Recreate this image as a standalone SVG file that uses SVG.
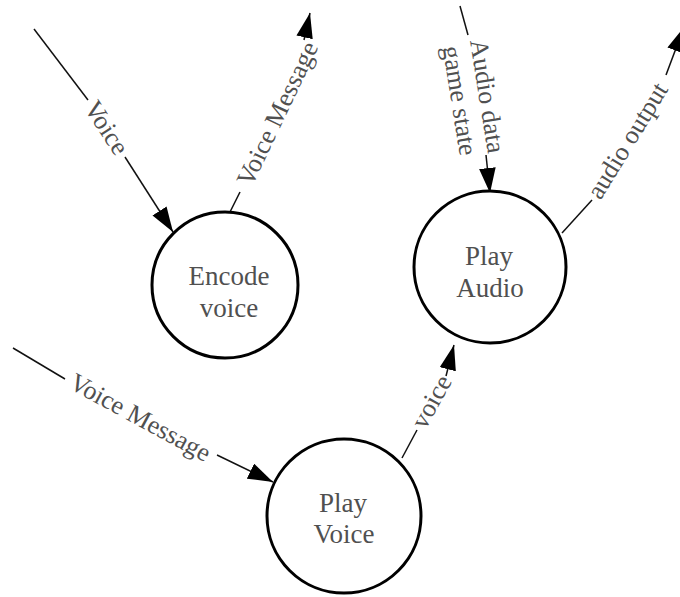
<svg xmlns="http://www.w3.org/2000/svg" width="680" height="597" viewBox="0 0 680 597">
  <defs>
    <marker id="arrow" viewBox="0 0 24 16" refX="24" refY="8" markerWidth="25" markerHeight="17" markerUnits="userSpaceOnUse" orient="auto">
      <path d="M0,0 L24,8 L0,16 Z" fill="#000"/>
    </marker>
    <style>
      .node circle { fill: #fff; stroke: #000; stroke-width: 3; }
      .node text { font-family: "Liberation Serif", "Times New Roman", serif; font-size: 27px; fill: #505050; text-anchor: middle; }
      .edge { fill: none; stroke: #111; stroke-width: 1.5; }
      .lbl { font-family: "Liberation Serif", "Times New Roman", serif; font-size: 26px; fill: #505050; text-anchor: middle; }
    </style>
  </defs>

  <rect width="680" height="597" fill="#fff"/>

  <!-- data flows -->
  <g id="connectors">
    <!-- Voice -> Encode voice -->
    <path class="edge" d="M34,29 L88,100"/>
    <text class="lbl" transform="translate(106,128) rotate(57)" dy="0.3em">Voice</text>
    <path class="edge" d="M125,157 L173,232" marker-end="url(#arrow)"/>

    <!-- Encode voice -> Voice Message -->
    <path class="edge" d="M230,212 L240,192"/>
    <text class="lbl" transform="translate(278,114) rotate(-64.5)" dy="0.3em">Voice Message</text>
    <path class="edge" d="M304,40 L310,13" marker-end="url(#arrow)"/>

    <!-- Audio data / game state -> Play Audio -->
    <path class="edge" d="M460,6 L468,35"/>
    <g transform="translate(476,98) rotate(81)">
      <text class="lbl" y="-3">Audio data</text>
      <text class="lbl" y="25">game state</text>
    </g>
    <path class="edge" d="M486,155 L490,193" marker-end="url(#arrow)"/>

    <!-- Play Audio -> audio output -->
    <path class="edge" d="M562,233 L592,200"/>
    <text class="lbl" transform="translate(628,141) rotate(-58.5)" dy="0.3em">audio output</text>
    <path class="edge" d="M666,75 L684,27" marker-end="url(#arrow)"/>

    <!-- Voice Message -> Play Voice -->
    <path class="edge" d="M13,348 L65,379"/>
    <text class="lbl" transform="translate(140,418) rotate(28.5)" dy="0.3em">Voice Message</text>
    <path class="edge" d="M217,455 L273,482" marker-end="url(#arrow)"/>

    <!-- Play Voice -> Play Audio -->
    <path class="edge" d="M402,458 L417,430"/>
    <text class="lbl" transform="translate(432,402) rotate(-61)" dy="0.3em">voice</text>
    <path class="edge" d="M446,376 L454,345" marker-end="url(#arrow)"/>
  </g>

  <!-- processes -->
  <g id="encode-voice" class="node">
    <circle cx="225" cy="285" r="73"/>
    <text x="229" y="285">Encode</text>
    <text x="229" y="317">voice</text>
  </g>

  <g id="play-audio" class="node">
    <circle cx="490" cy="267" r="76"/>
    <text x="489" y="265">Play</text>
    <text x="490" y="297">Audio</text>
  </g>

  <g id="play-voice" class="node">
    <circle cx="344" cy="516" r="77"/>
    <text x="343" y="512">Play</text>
    <text x="344" y="543">Voice</text>
  </g>
</svg>
